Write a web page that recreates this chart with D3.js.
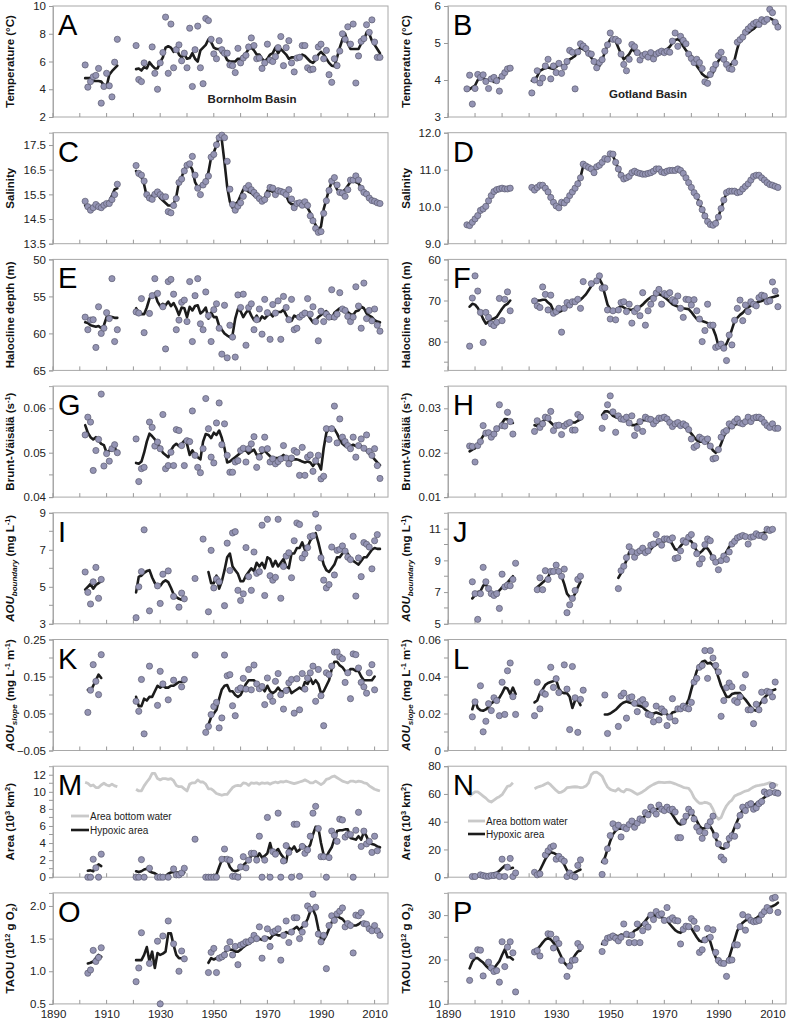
<!DOCTYPE html>
<html><head><meta charset="utf-8">
<script src="https://cdn.jsdelivr.net/npm/d3@7"></script>
<style>
body{margin:0;background:#fff}
text{font-family:"Liberation Sans",Arial,sans-serif}
</style>
</head><body>
<svg id="c" width="790" height="1025"></svg>
<script>
// ---------------- DATA (segments: [startYear, values...]) ----------------
const xTickYears = [1890,1900,1910,1920,1930,1940,1950,1960,1970,1980,1990,2000,2010];
const xLabelYears = [1890,1910,1930,1950,1970,1990,2010];

// A  Temperature Bornholm
const tempBBDots = [[1902,[5.75,4.15,4.55,4.9,5.0,5.5,3.0,4.2,5.15,4.25,3.45,5.95,7.6]],
 [1921,[7.15,4.7,4.55,5.9,null,null,7.05,5.15,4.0,5.9,
 6.65,9.2,5.15,8.7,5.55,6.85,7.2,6.05,6.6,5.55,
 8.4,4.2,6.85,8.55,5.55,4.4,9.1,8.95,7.6,6.55,
 6.2,7.5,6.85,6.6,6.6,5.75,5.7,5.2,6.95,5.9,
 6.25,6.45,7.05,7.7,7.15,6.2,6.25,5.5,5.9,7.25,
 6.1,6.0,6.35,7.0,7.8,5.7,7.0,7.5,5.9,5.25,
 6.25,6.3,7.15,7.15,5.55,5.4,5.45,6.25,7.05,7.25,
 6.2,6.8,5.05,4.5,6.2,5.7,6.75,8.0,7.6,8.5,
 7.25,8.7,4.45,6.4,7.45,7.65,8.65,8.1,9.0,7.4,
 6.3,6.3]]];
const tempBBLine = [[1902,[4.8,4.8,4.8,4.6,4.6,4.6,4.55,4.3,4.2,5.05,5.3,5.5,5.7]],
 [1921,[5.45,5.5,5.35,5.6,5.5,5.95,5.7,5.5,5.5,5.95,
 6.3,7.0,7.1,7.0,6.7,7.0,6.5,6.3,6.5,6.2,
 6.25,6.6,6.2,6.0,6.8,7.0,7.2,7.6,7.4,7.0,
 6.9,6.9,6.6,6.5,6.1,6.0,6.0,6.0,6.2,6.2,
 6.4,6.6,6.9,7.0,6.8,6.5,6.5,6.2,6.0,6.2,
 6.5,6.6,7.0,6.6,6.9,6.7,6.5,6.2,6.3,6.3,
 6.2,6.4,6.5,6.4,6.2,6.0,5.9,6.1,6.5,6.7,
 6.5,6.2,5.9,5.7,5.65,6.3,7.0,7.6,8.0,7.3,
 6.9,6.9,6.9,6.9,7.3,7.5,8.1,8.0,7.5,7.2,
 6.9,6.6]]];

// B  Temperature Gotland
const tempGBDots = [[1897,[3.76,4.13,3.35,3.77,4.15,4.07,4.14,3.96,3.77,4.03,4.07,3.98,3.7,4.1,4.2,4.3,4.32]],
 [1921,[3.65,4.0,4.25,3.92,4.05,4.38,4.56,4.03,4.38,4.2,
 4.45,4.18,4.35,4.5,4.8,4.75,3.76,4.76,4.98,4.92,
 4.85,4.72,4.7,4.5,4.33,4.47,4.55,4.78,4.95,5.27,
 5.1,5.1,5.05,4.7,4.42,4.25,4.56,4.96,4.9,4.74,
 4.54,4.66,4.7,4.62,4.74,4.57,4.7,4.74,4.78,4.74,
 4.78,4.75,5.05,5.27,4.91,5.18,5.07,4.98,4.7,4.58,
 4.47,4.56,4.47,4.31,3.95,3.91,4.15,4.29,4.42,4.66,
 4.75,4.56,4.42,4.31,4.29,4.47,5.02,5.09,5.16,5.29,
 5.38,5.45,5.52,5.56,5.5,5.63,5.58,5.64,5.91,5.82,
 5.56,5.43]]];
const tempGBLine = [[1898,[3.75,3.8,3.85,4.0,4.05,4.05,4.0,4.0,4.0,3.95,4.0,4.05,4.1,4.2,4.3,4.33]],
 [1921,[3.98,3.98,4.1,4.25,4.29,4.32,4.34,4.32,4.3,4.35,
 4.42,4.4,4.38,4.45,4.56,4.6,4.65,4.8,4.87,4.83,
 4.78,4.7,4.6,4.5,4.42,4.38,4.55,4.74,4.95,5.1,
 5.1,5.05,4.87,4.7,4.56,4.62,4.7,4.83,4.78,4.72,
 4.7,4.7,4.7,4.7,4.7,4.7,4.72,4.74,4.75,4.8,
 4.83,4.9,5.0,5.08,5.1,5.05,4.91,4.8,4.72,4.65,
 4.52,4.38,4.28,4.16,4.1,4.07,4.12,4.2,4.35,4.52,
 4.6,4.55,4.42,4.38,4.45,4.55,4.85,5.09,5.18,5.25,
 5.27,5.33,5.38,5.45,5.5,5.54,5.63,5.67,5.67,5.63,
 5.58,5.5]]];

// C  Salinity Bornholm
const salBBDots = [[1902,[15.22,15.0,14.86,14.96,15.09,15.0,14.96,15.06,15.13,15.13,15.29,15.49,15.91]],
 [1921,[16.67,16.35,16.28,16.04,15.49,15.35,15.3,15.5,15.6,15.49,
 15.4,15.4,14.8,14.75,15.05,15.33,15.98,16.12,16.45,16.68,
 16.74,17.04,16.28,15.75,15.49,15.88,16.02,16.24,17.01,17.12,
 17.51,17.8,17.9,17.8,16.84,15.71,15.09,14.86,15.02,15.16,
 15.42,15.75,15.86,15.69,15.58,15.45,15.33,15.22,15.29,15.49,
 15.78,15.75,15.49,15.65,15.62,15.58,15.49,15.69,15.31,14.96,
 15.13,15.16,15.06,15.2,15.05,14.63,14.43,14.12,13.96,13.99,
 14.73,15.24,15.66,16.04,16.18,15.88,15.58,15.55,15.42,15.69,
 16.08,16.08,16.25,16.08,15.75,15.58,15.51,15.35,15.25,15.22,
 15.16,15.13]]];
const salBBLine = [[1902,[15.05,14.95,14.97,15.0,15.02,15.0,15.05,15.1,15.13,15.2,15.45,15.7,15.75]],
 [1921,[16.45,16.3,16.2,15.9,15.4,15.4,15.45,15.45,15.5,15.35,
 15.25,15.15,15.05,15.05,15.1,15.4,16.0,16.2,16.5,16.7,
 16.7,16.5,16.0,15.8,15.85,15.95,16.0,16.4,17.0,17.2,
 17.5,17.85,17.7,16.8,15.8,15.2,14.95,15.1,15.2,15.45,
 15.7,15.7,15.6,15.55,15.45,15.4,15.3,15.3,15.35,15.65,
 15.65,15.6,15.6,15.62,15.6,15.5,15.45,15.2,15.1,15.1,
 15.15,15.1,15.1,15.05,14.95,14.75,14.5,14.25,14.05,14.2,
 14.9,15.3,15.7,16.0,15.95,15.7,15.6,15.6,15.7,15.85,
 16.0,16.05,16.0,15.95,15.75,15.55,15.45,15.35,15.25,15.2,
 15.15,15.1]]];

// D  Salinity Gotland
const salGBDots = [[1897,[9.51,9.49,9.58,9.67,9.76,9.9,9.94,10.01,10.16,10.3,10.41,10.46,10.48,10.5,10.48,10.48,10.5]],
 [1921,[10.52,10.45,10.52,10.58,10.58,10.5,10.4,10.25,10.12,10.02,
 9.97,10.12,10.1,10.18,10.3,10.4,10.5,10.62,10.78,11.15,
 11.1,11.06,11.02,10.92,11.08,11.12,11.2,11.3,11.28,11.43,
 11.42,11.2,11.02,10.85,10.75,10.78,10.82,10.92,10.96,10.92,
 10.9,10.88,10.88,10.9,10.92,10.96,11.02,11.02,10.94,10.92,
 10.96,10.98,10.98,10.98,11.02,10.98,10.9,10.78,10.65,10.52,
 10.38,10.28,10.1,9.92,9.75,9.6,9.52,9.5,9.55,9.72,
 9.95,10.18,10.38,10.42,10.42,10.42,10.38,10.4,10.48,10.55,
 10.62,10.72,10.82,10.85,10.85,10.78,10.72,10.65,10.6,10.58,
 10.55,10.52]]];
const salGBLine = [[1897,[9.5,9.52,9.58,9.66,9.76,9.88,9.95,10.03,10.15,10.28,10.4,10.45,10.48,10.49,10.48,10.48,10.5]],
 [1921,[10.52,10.5,10.52,10.56,10.56,10.5,10.4,10.26,10.13,10.04,
 10.0,10.08,10.12,10.2,10.3,10.4,10.5,10.62,10.8,11.1,
 11.1,11.05,11.02,11.0,11.05,11.12,11.2,11.28,11.32,11.4,
 11.38,11.2,11.02,10.86,10.77,10.78,10.84,10.9,10.93,10.92,
 10.9,10.89,10.89,10.9,10.92,10.95,11.0,11.0,10.95,10.93,
 10.95,10.97,10.98,10.99,11.0,10.97,10.9,10.78,10.65,10.52,
 10.38,10.27,10.1,9.92,9.76,9.62,9.53,9.51,9.57,9.73,
 9.95,10.18,10.36,10.41,10.42,10.41,10.39,10.41,10.47,10.55,
 10.62,10.71,10.8,10.84,10.84,10.79,10.72,10.65,10.6,10.57,
 10.54,10.52]]];

// E  Halocline depth Bornholm
const haloBBDots = [[1902,[57.8,59.5,58.2,58.15,61.9,56.4,60.0,59.3,57.2,58.0,52.6,61.1,59.5]],
 [1921,[57.1,57.25,55.3,59.9,null,57.3,54.9,52.6,54.6,null,
 56.4,62.1,53.0,52.7,54.7,59.5,58.2,55.8,55.5,58.4,
 53.0,61.1,54.9,52.6,58.7,59.5,54.4,57.6,61.1,56.8,
 56.0,59.3,62.8,56.2,63.3,58.9,60.5,63.2,54.8,56.5,
 54.7,61.6,56.5,56.0,59.5,58.15,56.7,60.1,55.4,57.2,
 60.8,56.1,57.25,55.6,60.8,55.0,56.5,58.15,55.4,59.5,
 59.3,57.8,57.5,57.25,55.3,57.4,56.4,58.4,61.0,57.0,
 58.4,57.4,57.8,54.1,57.8,57.4,54.5,56.7,56.9,57.7,
 58.4,57.8,53.7,56.3,59.3,53.2,58.0,56.9,58.3,56.7,
 58.9,59.7]]];
const haloBBLine = [[1902,[58.5,58.6,58.9,59.0,59.1,59.0,59.3,58.9,57.8,57.7,57.8,57.9,57.9]],
 [1921,[56.6,57.2,57.4,57.4,56.5,55.3,55.0,54.6,55.7,56.3,
 56.0,56.2,55.7,56.3,55.9,56.6,57.5,56.5,56.6,57.8,
 56.4,56.9,56.3,56.2,57.3,57.0,56.5,58.0,57.2,57.8,
 57.8,59.0,59.5,60.0,60.3,60.5,60.2,58.0,56.7,57.0,
 57.8,57.2,56.8,57.6,58.2,57.6,58.3,57.7,58.0,57.6,
 57.3,57.7,57.0,57.1,57.1,56.8,57.5,58.1,58.3,57.6,
 57.8,57.5,57.4,57.0,57.4,58.0,58.5,58.2,57.8,57.5,
 57.2,57.0,57.5,58.0,57.2,56.9,56.6,56.6,56.8,57.1,
 57.4,57.5,57.0,56.9,56.4,56.6,57.3,57.6,57.8,58.2,
 58.4,58.5]]];

// F  Halocline depth Gotland
const haloGBDots = [[1898,[81.1,69.4,64.0,67.7,72.9,80.2,72.9,74.1,75.7,76.1,75.3,69.5,74.9,69.7,67.9,72.5]],
 [1922,[70.1,71.3,71.7,66.7,68.5,72.3,68.7,73.1,72.7,
 71.9,77.7,71.9,70.5,71.1,70.3,70.3,69.7,71.9,65.4,
 null,null,65.9,null,65.2,64.0,67.0,66.9,72.3,74.5,
 72.5,74.7,72.3,70.5,70.3,72.7,70.9,75.5,72.7,71.9,
 73.7,68.1,76.0,72.5,70.9,69.5,68.2,67.3,70.9,68.3,
 68.6,68.1,69.8,70.3,68.9,71.9,74.1,69.7,69.8,71.1,
 69.8,72.5,74.5,80.0,77.3,70.9,76.0,76.0,81.4,81.1,
 80.6,81.6,84.6,78.4,80.8,74.8,71.9,69.9,74.9,71.1,
 72.7,70.3,70.9,71.3,69.3,68.7,68.9,70.3,70.1,65.5,
 67.7,71.5]]];
const haloGBLine = [[1898,[71.5,70.8,71.0,71.8,73.0,74.5,75.6,75.2,74.6,74.4,74.0,73.0,72.0,71.2,70.8,70.0]],
 [1922,[70.5,70.0,70.0,69.8,69.8,70.5,71.0,72.5,73.0,
 72.8,72.5,72.0,71.5,71.0,70.6,70.5,70.2,69.8,69.2,
 68.5,67.5,66.5,65.6,65.0,64.7,66.0,68.5,71.0,72.1,
 72.5,72.3,71.8,71.3,71.7,72.1,72.2,72.3,72.0,71.8,
 71.5,71.0,70.3,69.7,69.2,68.9,68.7,68.5,68.7,69.2,
 69.7,70.3,70.9,71.2,71.5,71.7,71.9,72.0,72.1,72.8,
 73.7,74.5,74.9,75.0,75.2,75.5,75.7,76.8,78.5,81.0,
 81.4,81.4,80.5,79.0,77.0,75.0,74.2,73.5,73.0,72.3,
 71.6,71.3,71.0,70.6,70.3,70.1,69.9,69.7,69.4,69.2,
 69.0,68.8]]];

// G  Brunt-Vaisala Bornholm
const bvBBDots = [[1902,[0.054,0.058,0.0569,0.046,0.0505,0.053,0.0632,0.047,0.0498,0.0481,0.0509,0.0518,0.050]],
 [1921,[0.0531,0.0435,0.0464,0.0467,null,0.0569,0.0557,0.0515,0.0524,0.0509,
 0.0586,0.0464,0.0471,0.0501,0.0471,0.0552,0.055,0.0516,0.0471,0.0527,
 0.0525,0.0594,0.0494,0.0467,0.0455,0.0509,0.0622,0.0554,0.049,0.0477,
 0.0567,0.0612,0.0518,0.0565,0.0494,0.0456,0.0456,0.0479,0.0482,0.0505,
 0.051,0.0479,0.0509,0.052,0.0536,0.0467,0.049,0.0507,0.0535,0.0509,
 0.0479,0.0486,0.0475,0.048,0.0486,0.0516,0.0488,0.0475,0.0488,0.0505,
 0.0501,0.0449,0.0512,0.0449,0.049,0.0495,0.0458,0.0482,0.0494,0.0441,
 0.0447,0.0554,0.053,0.0554,0.0605,0.0522,0.0576,0.0535,0.0525,0.0516,
 0.0509,0.0535,0.049,0.0516,0.0531,0.051,0.054,0.0503,0.0494,0.0509,
 0.0471,0.0442]]];
const bvBBLine = [[1902,[0.0562,0.0545,0.0535,0.053,0.0535,0.0527,0.052,0.0517,0.050,0.0505,0.0505,0.0512,0.050]],
 [1921,[0.0477,0.0475,0.048,0.050,0.0525,0.0543,0.0537,0.053,0.052,0.051,
 0.050,0.0495,0.049,0.0505,0.0515,0.052,0.0515,0.052,0.0527,0.052,
 0.0495,0.0505,0.0495,0.049,0.0485,0.0525,0.0542,0.054,0.0533,0.0545,
 0.054,0.055,0.0533,0.051,0.0478,0.048,0.0485,0.049,0.0495,0.050,
 0.0505,0.0505,0.0498,0.0503,0.0507,0.0495,0.0495,0.050,0.0505,0.0498,
 0.0492,0.0487,0.0488,0.0488,0.049,0.0495,0.049,0.0483,0.0482,0.0485,
 0.0485,0.0483,0.048,0.0478,0.048,0.0478,0.047,0.0478,0.0475,0.0462,
 0.051,0.0545,0.0555,0.0558,0.0553,0.0543,0.053,0.052,0.0515,0.0513,
 0.0515,0.0518,0.0515,0.0517,0.0515,0.0508,0.0505,0.0498,0.0492,0.0485,
 0.0478,0.0472]]];

// H  Brunt-Vaisala Gotland
const bvGBDots = [[1898,[0.0215,0.0214,0.0179,0.0216,0.0225,0.0261,0.0244,0.0245,0.0235,0.0242,0.0254,0.0308,0.0261,0.026,0.0291,0.027,0.0242]],
 [1922,[0.0248,0.0272,0.0257,0.0265,0.028,0.0278,0.0293,0.025,0.0261,0.0262,0.0241,0.026,0.0265,0.0268,0.0251,0.0251,0.0286,0.028]],
 [1947,[0.0255,0.0281,0.0308,0.0328,
 0.0292,0.0246,0.0283,0.0276,0.0275,0.028,0.0267,0.0283,0.0239,0.0255,
 0.027,0.0248,0.028,0.0276,0.0275,0.0265,0.0272,0.0278,0.0278,0.028,
 0.0276,0.0268,0.0259,0.0265,0.0268,0.0261,0.0265,0.0261,0.0252,0.0231,
 0.0212,0.0216,0.0235,0.0231,0.0225,0.0231,0.0215,0.0186,0.0188,0.0207,
 0.0235,0.0246,0.025,0.0265,0.026,0.027,0.0276,0.0267,0.0265,0.027,
 0.028,0.027,0.0278,0.028,0.028,0.0276,0.0268,0.0261,0.0257,0.0265,
 0.0255,0.0255]]];
const bvGBLine = [[1898,[0.0203,0.0207,0.021,0.022,0.0228,0.0238,0.0243,0.0243,0.0243,0.0245,0.025,0.0258,0.0267,0.0276,0.0275,0.0268,0.0267]],
 [1922,[0.0262,0.026,0.0268,0.027,0.0275,0.0274,0.0268,0.0262,0.0258,0.026,0.0262,0.0265,0.0263,0.0268,0.0268,0.0268,0.0272,0.0275]],
 [1947,[0.0285,0.0293,0.0293,0.029,
 0.0283,0.028,0.0278,0.0275,0.0275,0.0272,0.0268,0.0262,0.0262,0.0265,
 0.0268,0.0273,0.0273,0.0273,0.027,0.0268,0.0268,0.0272,0.0275,0.0275,
 0.0272,0.0268,0.0265,0.0262,0.0262,0.0262,0.026,0.0255,0.025,0.0243,
 0.0235,0.0228,0.0225,0.0225,0.0225,0.0222,0.0215,0.0205,0.020,0.0205,
 0.022,0.0237,0.0248,0.0255,0.026,0.0263,0.0265,0.0265,0.0267,0.0268,
 0.027,0.0272,0.0275,0.0275,0.0275,0.0272,0.0268,0.0265,0.0262,0.026,
 0.0258,0.0258]]];

// I  AOU boundary Bornholm
const aoubBBDots = [[1902,[5.8,4.7,4.07,5.27,6.05,4.38,5.4]],
 [1921,[3.33,5.0,5.82,8.08,null,3.7,null,null,5.05,4.1,5.68,null,5.86,null,4.48,null,3.9,4.66,4.35]],
 [1943,[5.45]],
 [1946,[7.58,null,3.65,6.97,4.94,5.42,5.27,null,3.98,7.36,5.88,7.91,7.98,4.81,4.26,
 4.62,7.12,5.55,4.81,6.88,5.73,5.82,8.33,4.53,8.65,
 5.6,5.36,5.51,8.65,4.38,6.1,6.66,6.84,5.49,7.49,
 8.45,8.37,6.56,6.78,7.12,7.71,7.76,8.93,8.19,6.56,
 5.36,4.94,5.12,7.15,5.64,6.97,7.02,7.21,6.93,6.6,
 6.47,7.73,4.5,6.56,5.55,7.39,7.3,7.15,5.97,7.49,
 7.82]]];
const aoubBBLine = [[1902,[4.85,5.0,5.15,4.9,5.1,5.2,5.3]],
 [1921,[4.7,5.55,5.6,5.75,5.85,5.9,5.5,5.2,5.0,5.05,5.25,5.35,5.25,4.95,4.6,4.45,4.35,4.3,4.35]],
 [1948,[5.8,5.2,5.2,
 5.6,4.9,5.3,5.9,6.6,6.8,6.1,5.9,5.7,5.3,
 5.3,5.6,5.8,6.0,5.85,6.3,6.1,6.3,6.0,6.6,
 6.5,6.1,6.4,6.1,6.3,6.5,6.1,6.0,6.8,6.8,
 7.1,7.1,7.4,7.0,7.15,7.5,7.7,7.9,7.4,6.8,
 6.2,5.9,5.8,6.0,6.2,6.6,6.6,6.8,6.9,6.8,
 6.5,6.4,6.3,6.2,6.4,6.6,6.6,6.8,7.0,7.1,
 7.05,7.05]]];

// J  AOU boundary Gotland
const aoubGBDots = [[1899,[7.65,6.9,5.28,6.9,8.56,7.65,7.22,6.9,6.79,6.9,5.97,8.13,7.33,7.44,7.4,7.8,8.82]],
 [1923,[7.15,7.9,7.15,8.35,7.8,8.3,8.3,8.7,8.3,8.0,8.45,5.7,6.2,6.6,7.1,7.8,8.0]],
 [1953,[7.22,8.35,8.63,9.17,9.86,9.55,9.2,9.49,9.6,9.77,
 9.49,9.6,9.96,10.03,10.63,10.2,9.96,10.35,10.35,10.29,
 10.42,9.12,9.17,9.6,10.24,10.14,10.46,10.63,9.92,9.42,
 8.78,9.1,9.99,10.35,10.24,9.17,8.89,8.41,8.99,9.27,
 9.06,9.53,10.03,10.2,10.42,10.5,10.57,10.5,10.03,10.46,
 10.5,10.68,10.57,10.57,10.46,10.96,10.89,10.96]]];
const aoubGBLine = [[1899,[6.6,6.8,7.0,7.05,7.4,7.5,7.15,6.95,6.85,6.95,7.1,7.3,7.4,7.6,7.8,8.0]],
 [1923,[7.3,7.45,7.6,7.75,7.95,8.3,8.35,8.35,8.3,8.0,7.5,6.9,6.7,6.6,6.9,7.3,7.65]],
 [1953,[7.9,8.2,8.6,9.0,9.5,9.6,9.5,9.45,9.5,9.55,
 9.6,9.6,9.7,9.9,10.0,10.1,10.2,10.2,10.25,10.3,
 10.0,9.7,9.65,9.9,10.1,10.25,10.3,10.2,9.9,9.6,
 9.45,9.6,9.8,9.75,9.5,9.1,8.9,8.85,9.05,9.25,
 9.55,9.85,10.1,10.3,10.45,10.55,10.6,10.55,10.5,10.5,
 10.55,10.6,10.65,10.7,10.75,10.8,10.85,10.85]]];

// K  AOU slope Bornholm
const aousBBDots = [[1903,[0.053,0.113,0.182,0.137,0.101,0.209]],
 [1921,[0.083,0.056,0.142,-0.005,null,0.178,null,null,0.072,0.164,0.13,null,0.087,null,0.14,null,null,0.122,0.142]],
 [1943,[0.208]],
 [1947,[-0.001,0.015,0.047,0.069,
 0.08,0.011,0.038,0.208,0.152,0.155,0.071,0.044,0.114,0.119,
 0.145,0.116,0.169,0.114,0.181,0.13,0.117,0.123,0.074,0.146,
 0.096,0.083,0.137,0.158,0.101,0.062,0.112,0.133,0.142,0.051,
 0.144,0.06,0.158,0.116,0.146,0.16,0.178,0.083,0.169,0.098,
 0.017,0.16,0.155,0.178,0.216,0.216,0.203,0.198,0.134,0.16,
 0.09,0.211,0.209,0.173,0.134,0.122,0.105,0.16,0.182,0.114]]];
const aousBBLine = [[1903,[0.114,0.11,0.125,0.14,0.155,0.146]],
 [1921,[0.095,0.07,0.07,0.09,0.085,0.095,0.095,0.11,0.125,0.12,0.125,0.12,0.12,0.125,0.125,0.13,0.135,0.135,0.135]],
 [1948,[0.02,0.04,0.05,
 0.06,0.09,0.115,0.125,0.127,0.11,0.11,0.1,0.095,0.1,
 0.115,0.13,0.14,0.14,0.14,0.13,0.125,0.12,0.11,0.125,
 0.11,0.105,0.11,0.12,0.11,0.11,0.115,0.12,0.105,0.11,
 0.115,0.12,0.115,0.135,0.13,0.145,0.13,0.14,0.13,0.105,
 0.11,0.125,0.14,0.17,0.19,0.19,0.18,0.175,0.165,0.16,
 0.17,0.17,0.165,0.165,0.15,0.14,0.14,0.14,0.14,0.15]]];

// L  AOU slope Gotland
const aousGBDots = [[1899,[0.0182,0.0263,null,0.035,0.0101,0.0158,0.0253,0.0216,0.0285,0.027,0.0188,0.0369,0.0195,0.0431,0.0473,0.0291,0.0195]],
 [1922,[0.0188,0.0369,0.0225,0.0313,0.0304,null,0.045,0.0341,0.0388,0.0313,null,0.0463,0.0332,0.0113,0.0454,0.0285,0.0098,0.0276,0.0326]],
 [1948,[0.030,0.0092,null,
 null,null,0.013,0.0295,0.031,0.0175,0.0285,0.029,0.0255,0.021,
 0.0265,0.0275,0.025,0.0195,0.019,0.0155,0.024,0.0165,0.0225,0.021,
 0.0135,0.018,0.028,0.016,0.0225,0.0225,0.024,0.023,0.0225,0.026,
 0.037,0.039,0.045,0.046,0.054,0.039,0.054,0.050,0.046,0.0425,
 0.0185,0.027,0.034,0.0365,0.0345,0.027,0.026,0.029,0.034,0.041,
 0.022,0.022,0.0145,0.025,0.022,0.0315,0.027,0.032,0.0315,0.029,
 0.037]]];
const aousGBLine = [[1899,[0.0223,0.027,0.023,0.0218,0.0215,0.0222,0.0235,0.0255,0.0265,0.027,0.0285,0.031,0.034,0.0335,0.0305,0.034,0.0305]],
 [1922,[0.026,0.027,0.031,0.033,0.0355,0.0365,0.037,0.0375,0.038,0.0335,0.0315,0.031,0.031,0.029,0.023,0.027,0.0275,0.0245]],
 [1948,[0.0195,0.0195,0.02,
 0.021,0.022,0.0235,0.025,0.026,0.0265,0.026,0.0255,0.025,0.0245,
 0.024,0.0235,0.022,0.021,0.02,0.02,0.0205,0.02,0.0195,0.0205,
 0.0195,0.0185,0.0205,0.021,0.022,0.023,0.0235,0.0245,0.0275,0.033,
 0.038,0.043,0.046,0.048,0.0485,0.047,0.0475,0.046,0.044,0.0395,
 0.035,0.032,0.029,0.029,0.0305,0.031,0.031,0.031,0.029,0.0275,
 0.0255,0.0235,0.022,0.0215,0.0245,0.0265,0.0285,0.030,0.031,0.0325,
 0.033]]];

// M  Area Bornholm
const areaBBDots = [[1903,[0,0,2.1,1.1,0,2.7]],
 [1921,[0,0,2.06,0,null,1.05,null,null,0,0,0,null,0,null,0.97,0.27,0.27,0.5,1.05]],
 [1943,[4.45]],
 [1947,[0,0,0,0,
 0,null,2.1,3.3,2.1,2.0,0.1,0.1,0,1.2,
 2.4,1.1,2.0,2.8,2.8,2.0,4.8,0,2.0,7.0,
 0,3.0,2.7,7.5,0,1.9,3.7,2.9,0,6.2,
 6.2,0.1,3.6,2.8,3.2,4.8,7.5,8.3,5.7,2.4,
 2.4,0,2.3,5.4,4.9,4.2,6.8,6.7,4.7,5.0,
 5.0,0,5.5,7.6,3.6,5.4,3.9,4.2,2.9,4.8,
 3.1]]];
const areaBBLine = [[1903,[0.75,0.8,0.7,1.2,1.5,1.3]],
 [1921,[0.7,0.6,0.7,0.9,1.0,0.7,0.55,0.45,0.25,0.1,0.1,0.15,0.4,0.55,0.6,0.55,0.55,0.6,0.55]],
 [1948,[0.2,0.2,0.2,
 0.3,1.2,2.0,2.3,2.0,1.2,0.8,0.7,0.8,1.1,
 1.4,1.7,2.0,2.5,2.6,2.2,2.8,2.3,2.5,2.8,
 4.0,2.8,3.0,3.3,2.7,2.3,1.8,3.5,3.2,3.6,
 3.0,3.2,3.8,3.6,3.3,3.8,5.0,5.9,5.8,4.0,
 2.6,2.4,3.0,3.5,4.5,5.4,5.5,5.5,5.6,5.6,
 4.6,4.5,4.4,4.8,4.4,5.3,4.8,4.0,3.9,3.8,
 3.6,3.5]]];
const bottomBB = [[1902,[11.1,11.0,10.7,10.8,10.5,10.5,10.8,11.0,10.8,10.7,10.9,10.7,10.6]],
 [1921,[10.3,10.1,10.1,10.7,11.15,11.55,12.15,12.15,11.55,11.4,
 11.55,11.55,11.45,11.55,11.3,10.75,10.6,10.6,10.35,10.1,
 10.9,11.05,11.05,11.4,11.15,11.15,10.9,10.35,10.35,10.1,
 9.8,9.7,9.6,9.7,9.7,10.1,10.5,10.7,10.75,10.7,
 11.05,11.0,10.75,11.05,11.0,11.05,10.9,11.05,11.0,11.05,
 10.9,11.05,11.15,11.05,11.2,11.15,11.25,11.15,11.05,10.95,
 11.05,11.15,11.25,11.4,11.25,11.05,11.05,11.25,11.05,10.85,
 11.05,11.45,11.55,11.75,11.85,11.65,11.45,11.25,11.15,11.05,
 11.25,11.25,11.15,11.25,11.2,11.05,11.0,10.7,10.5,10.3,
 10.2,10.1]]];

// N  Area Gotland
const areaGBDots = [[1899,[0.5,0.5,null,1.7,1.2,0.7,0.7,1.2,1.2,1.7,0.5,13.0,0.5,7.2,13.5,0.5,3.1]],
 [1922,[3.5,1.7,2.4,null,16.0,19.0,21.5,22.5,13.0,15.0,13.0,11.5,0.5,3.0,1.0,0.2,8.5,12.5]],
 [1947,[2.0,11.5,20.5,30.0,
 38.5,35.5,37.5,29.0,36.0,35.0,38.0,40.5,36.0,39.0,
 42.0,41.0,46.5,45.0,50.5,48.0,45.5,52.0,49.0,48.0,
 50.5,48.5,49.0,47.0,28.5,28.5,40.0,44.0,49.0,47.0,
 42.0,36.0,33.0,28.0,32.0,37.0,40.0,44.0,30.0,24.0,
 14.5,12.5,23.0,28.0,30.0,29.5,37.0,44.5,50.5,48.0,
 52.0,53.0,49.0,50.0,53.0,54.5,61.5,60.0,61.0,66.0,
 61.0,60.5]]];
const areaGBLine = [[1899,[0.5,0.5,0.8,1.0,1.0,1.0,1.2,1.8,2.8,3.2,4.5,6.5,8.3,7.0,6.2,6.8]],
 [1922,[2.5,2.5,5.0,9.0,13.0,16.0,18.0,17.5,16.5,15.0,12.5,9.0,5.0,3.0,2.5,3.5,4.5,5.5]],
 [1947,[11.0,14.0,20.0,26.0,
 31.0,33.5,35.0,35.0,35.5,36.5,37.0,38.0,38.5,39.0,
 40.5,42.5,44.5,46.0,47.5,48.5,49.0,49.5,49.0,48.5,
 48.0,47.5,45.0,42.0,39.0,38.0,38.5,42.0,45.0,46.0,
 44.0,40.5,37.0,35.0,35.5,37.0,36.5,33.0,28.0,23.5,
 21.0,20.5,22.0,27.0,31.0,36.0,40.5,45.0,48.5,50.5,
 51.0,51.5,52.0,53.0,54.5,56.0,57.5,59.0,60.0,61.0,
 61.5,62.0]]];
const bottomGB = [[1898,[58.5,60.0,61.5,61.5,60.0,58.5,57.0,55.0,54.2,55.5,57.0,58.0,59.5,62.5,65.5,66.0,68.0]],
 [1922,[63.8,64.8,65.5,66.1,67.2,68.1,66.5,64.5,62.5,
 61.0,61.4,62.5,64.5,64.8,65.0,65.2,65.0,64.5,64.8,
 65.7,68.0,74.0,75.5,75.7,74.5,72.8,68.5,65.0,63.3,
 62.5,62.1,63.8,62.1,61.4,63.3,63.0,62.1,60.9,59.7,
 60.5,61.6,63.0,64.5,65.8,66.9,67.8,68.5,68.3,68.1,
 68.3,68.5,68.0,67.3,66.5,65.7,64.8,64.3,64.0,61.4,
 57.3,55.0,53.3,53.3,54.0,53.5,52.5,49.0,44.2,41.8,
 43.0,47.8,51.5,54.0,55.6,58.5,59.5,60.2,61.2,62.1,
 62.5,63.8,65.0,65.8,66.1,66.5,66.9,67.5,68.1,67.5,
 66.9,66.1]]];

// O  TAOU Bornholm
const taouBBDots = [[1903,[0.97,1.02,1.32,1.15,1.21,1.36]],
 [1921,[0.84,1.05,1.59,null,null,1.12,null,null,1.46,0.5,1.54,null,1.77,null,1.42,null,1.0,1.31,1.19]],
 [1948,[0.98,1.29,1.35,
 0.98,1.2,1.22,1.25,1.35,1.45,1.25,1.38,1.1,1.4,
 1.42,1.45,1.45,1.48,1.55,1.5,1.68,1.2,1.5,1.65,
 1.38,1.6,1.62,1.65,1.17,1.55,1.77,1.44,1.6,1.82,
 1.82,1.5,1.6,1.72,2.0,1.95,2.18,1.98,1.57,1.45,
 1.55,1.04,1.7,1.85,1.78,1.88,1.92,1.97,1.68,1.73,
 1.7,1.28,1.86,1.85,1.9,1.73,1.72,1.65,1.62,1.7,
 1.62,1.55]]];
const taouBBLine = [[1903,[1.12,1.13,1.15,1.2,1.25,1.22]],
 [1921,[1.17,1.17,1.17,1.25,1.37,1.15,1.3,1.05,1.28,1.25,1.27,1.3,1.58,1.58,1.4,1.25,1.2,1.2,1.2]],
 [1948,[1.13,1.2,1.18,
 1.2,1.2,1.22,1.28,1.33,1.33,1.33,1.3,1.3,1.33,
 1.37,1.4,1.42,1.45,1.48,1.48,1.5,1.48,1.5,1.52,
 1.5,1.55,1.57,1.55,1.55,1.57,1.6,1.58,1.62,1.65,
 1.68,1.63,1.68,1.72,1.8,1.92,1.95,1.85,1.65,1.5,
 1.48,1.55,1.65,1.75,1.82,1.85,1.82,1.8,1.75,1.7,
 1.68,1.7,1.7,1.72,1.75,1.75,1.72,1.68,1.65,1.63,
 1.62,1.6]]];

// P  TAOU Gotland
const taouGBDots = [[1898,[15.3,20.8,null,22.2,22.1,16.3,null,19.4,18.1,17.3,17.5,14.9,24.0,18.4,22.8,24.0,21.5,12.7]],
 [1922,[21.7,22.0,20.8,null,null,25.8,25.7,22.6,24.6,23.6,19.8,null,16.2,18.5,19.8,19.9,23.6,22.8]],
 [1947,[21.8,23.8,24.8,25.0,
 25.3,24.8,24.2,25.0,28.0,25.7,23.8,25.5,23.8,28.0,
 23.8,26.5,28.0,27.3,30.0,29.0,30.8,30.0,30.3,28.8,
 31.7,29.0,29.4,28.8,28.7,23.5,26.8,27.5,27.4,29.2,
 28.6,27.0,21.6,22.2,24.4,27.0,25.0,26.7,21.6,19.8,
 19.2,19.1,16.2,19.8,19.9,23.3,23.3,27.4,30.1,26.6,
 29.6,28.8,28.5,28.6,28.8,30.1,30.8,31.7,31.0,33.8,
 34.0,30.6]]];
const taouGBLine = [[1898,[18.0,19.5,20.3,20.3,19.8,19.3,18.6,18.0,17.6,18.0,18.8,19.6,21.0,22.3,20.5,20.5,20.0]],
 [1922,[21.8,22.3,23.0,23.8,24.5,24.8,24.5,23.8,23.0,21.8,20.5,19.3,18.6,19.0,20.0,21.0,21.8,22.0]],
 [1947,[23.5,24.2,24.8,25.2,
 25.5,25.4,25.2,25.6,25.5,25.3,25.2,25.8,26.5,26.8,
 27.5,28.0,28.7,29.5,30.0,30.0,29.8,29.6,29.5,29.2,
 28.8,28.0,27.3,26.6,26.2,26.0,26.5,27.3,27.6,27.0,
 26.0,25.0,24.2,24.0,24.5,25.2,24.0,22.0,20.5,19.2,
 18.9,19.0,19.5,20.5,22.5,24.5,26.5,27.5,28.3,28.8,
 29.0,29.0,29.0,29.3,29.8,30.5,31.0,31.5,31.8,32.0,
 32.3,32.8]]];

// ---------------- LABELS ----------------
const lblTemp = [["Temperature (°C)"]];
const lblSal = [["Salinity"]];
const lblHalo = [["Halocline depth (m)"]];
const lblBV = [["Brunt-Väisälä  (s"],["-1","sup"],[")"]];
const lblAOUb = [["AOU","i"],["boundary","isub"],[" (mg L"],["-1","sup"],[")"]];
const lblAOUs = [["AOU","i"],["slope","isub"],[" (mg L"],["-1","sup"],[" m"],["-1","sup"],[")"]];
const lblArea = [["Area (10"],["3","sup"],[" km"],["2","sup"],[")"]];
const lblTAOU = [["TAOU (10"],["12","sup"],[" g O"],["2","sub"],[")"]];

// ---------------- PANELS ----------------
const f0 = d3.format("d"), f1 = d3.format(".1f"), f2 = d3.format(".2f");
const panels = [
 {L:"A",c:0,r:0,dom:[2,10],tk:[2,4,6,8,10],mn:[],fmt:f0,lab:lblTemp,dots:tempBBDots,line:tempBBLine},
 {L:"B",c:1,r:0,dom:[3,6],tk:[3,4,5,6],mn:[],fmt:f0,lab:lblTemp,dots:tempGBDots,line:tempGBLine},
 {L:"C",c:0,r:1,dom:[13.5,18],tk:[13.5,14.5,15.5,16.5,17.5],mn:[],fmt:f1,lab:lblSal,dots:salBBDots,line:salBBLine},
 {L:"D",c:1,r:1,dom:[9,12],tk:[9,10,11,12],mn:[],fmt:f1,lab:lblSal,dots:salGBDots,line:salGBLine},
 {L:"E",c:0,r:2,dom:[65,50],tk:[50,55,60,65],mn:[],fmt:f0,lab:lblHalo,dots:haloBBDots,line:haloBBLine},
 {L:"F",c:1,r:2,dom:[87,60],tk:[60,70,80],mn:[65,75,85],fmt:f0,lab:lblHalo,dots:haloGBDots,line:haloGBLine},
 {L:"G",c:0,r:3,dom:[0.04,0.065],tk:[0.04,0.05,0.06],mn:[0.045,0.055],fmt:f2,lab:lblBV,dots:bvBBDots,line:bvBBLine},
 {L:"H",c:1,r:3,dom:[0.01,0.035],tk:[0.01,0.02,0.03],mn:[0.015,0.025],fmt:f2,lab:lblBV,dots:bvGBDots,line:bvGBLine},
 {L:"I",c:0,r:4,dom:[3,9],tk:[3,5,7,9],mn:[4,6,8],fmt:f0,lab:lblAOUb,dots:aoubBBDots,line:aoubBBLine},
 {L:"J",c:1,r:4,dom:[5,12],tk:[5,7,9,11],mn:[6,8,10],fmt:f0,lab:lblAOUb,dots:aoubGBDots,line:aoubGBLine},
 {L:"K",c:0,r:5,dom:[-0.05,0.25],tk:[-0.05,0.05,0.15,0.25],mn:[0,0.1,0.2],fmt:f2,lab:lblAOUs,dots:aousBBDots,line:aousBBLine},
 {L:"L",c:1,r:5,dom:[0,0.06],tk:[0,0.02,0.04,0.06],mn:[0.01,0.03,0.05],fmt:d=>d===0?"0":f2(d),lab:lblAOUs,dots:aousGBDots,line:aousGBLine},
 {L:"M",c:0,r:6,dom:[0,13],tk:[0,2,4,6,8,10,12],mn:[1,3,5,7,9,11],fmt:f0,lab:lblArea,dots:areaBBDots,line:areaBBLine,grey:bottomBB,leg:[71,89,816,830]},
 {L:"N",c:1,r:6,dom:[0,80],tk:[0,20,40,60,80],mn:[],fmt:f0,lab:lblArea,dots:areaGBDots,line:areaGBLine,grey:bottomGB,leg:[468,485,821,834]},
 {L:"O",c:0,r:7,dom:[0.5,2.2],tk:[0.5,1.0,1.5,2.0],mn:[],fmt:f1,lab:lblTAOU,dots:taouBBDots,line:taouBBLine},
 {L:"P",c:1,r:7,dom:[10,35],tk:[10,20,30],mn:[15,25],fmt:f0,lab:lblTAOU,dots:taouGBDots,line:taouGBLine}
];

// ---------------- DRAW ----------------
const svg = d3.select("#c");
const colX = [[53,388],[448,786]];
const labX = [14,410];
const rowTop = i => 6 + i*126.7, rowH = 111;
const toPts = segs => { const o=[]; segs.forEach(([s,v])=>v.forEach((d,i)=>{ if(d!=null) o.push([s+i,d]); })); return o; };
const toSegs = segs => segs.map(([s,v])=>v.map((d,i)=>[s+i,d]));

panels.forEach(p=>{
  const [x0,x1] = colX[p.c];
  const top = rowTop(p.r), bot = top + rowH;
  const x = d3.scaleLinear().domain([1890,2015]).range([x0,x1]);
  const y = d3.scaleLinear().domain(p.dom).range([bot,top]);
  const g = svg.append("g");

  g.append("rect").attr("x",x0).attr("y",top).attr("width",x1-x0).attr("height",rowH)
    .attr("fill","none").attr("stroke","#a8a8a8").attr("stroke-width",1);

  const ya = g.append("g").attr("transform",`translate(${x0},0)`)
    .call(d3.axisLeft(y).tickValues(p.tk).tickFormat(p.fmt).tickSize(4).tickPadding(3));
  ya.select(".domain").attr("stroke","#a8a8a8");
  ya.selectAll(".tick line").attr("stroke","#999");
  ya.selectAll(".tick text").attr("font-size",11.5).attr("fill","#222")
    .attr("font-family","Liberation Sans, Arial, sans-serif");
  p.mn.forEach(v=>g.append("line").attr("x1",x0-4).attr("x2",x0).attr("y1",y(v)).attr("y2",y(v)).attr("stroke","#999"));

  xTickYears.forEach(t=>g.append("line").attr("x1",x(t)).attr("x2",x(t)).attr("y1",bot).attr("y2",bot-4).attr("stroke","#999"));
  if(p.r===7){
    const xa = g.append("g").attr("transform",`translate(0,${bot})`)
      .call(d3.axisBottom(x).tickValues(xLabelYears).tickFormat(f0).tickSize(0).tickPadding(6));
    xa.select(".domain").remove();
    xa.selectAll(".tick text").attr("font-size",11.5).attr("fill","#222")
      .attr("font-family","Liberation Sans, Arial, sans-serif");
  }

  const line = d3.line().defined(d=>d[1]!=null).x(d=>x(d[0])).y(d=>y(d[1]));
  if(p.grey){
    toSegs(p.grey).forEach(s=>g.append("path").attr("d",line(s)).attr("fill","none")
      .attr("stroke","#c9c9c9").attr("stroke-width",2.8).attr("stroke-linejoin","round"));
  }
  toSegs(p.line).forEach(s=>g.append("path").attr("d",line(s)).attr("fill","none")
    .attr("stroke","#1c1c1c").attr("stroke-width",2.6).attr("stroke-linejoin","round").attr("stroke-linecap","round"));
  g.selectAll("circle.pt").data(toPts(p.dots)).join("circle").attr("class","pt")
    .attr("cx",d=>x(d[0])).attr("cy",d=>y(d[1])).attr("r",3.1)
    .attr("fill","#9494b4").attr("stroke","#5c5c70").attr("stroke-width",0.7);

  g.append("text").attr("x",x0+5).attr("y",top+29).attr("font-size",29).attr("fill","#000").text(p.L);

  const t = g.append("text").attr("transform",`translate(${labX[p.c]},${top+rowH/2}) rotate(-90)`)
    .attr("text-anchor","middle").attr("font-size",11.5).attr("font-weight","bold").attr("fill","#111");
  let shift = 0;
  p.lab.forEach(([s,st])=>{
    const ts = t.append("tspan").text(s);
    let target = 0;
    if(st==="sup"){ target=-4.5; ts.attr("font-size",7.5); }
    else if(st==="sub"){ target=3; ts.attr("font-size",7.5); }
    else if(st==="isub"){ target=3; ts.attr("font-size",8).attr("font-style","italic"); }
    if(st==="i") ts.attr("font-style","italic");
    if(target!==shift){ ts.attr("dy",target-shift); shift=target; }
  });

  if(p.leg){
    const [lx0,lx1,ly1,ly2] = p.leg;
    g.append("line").attr("x1",lx0).attr("x2",lx1).attr("y1",ly1).attr("y2",ly1).attr("stroke","#c9c9c9").attr("stroke-width",2.8);
    g.append("text").attr("x",lx1+1).attr("y",ly1+3.5).attr("font-size",10).attr("fill","#222").text("Area bottom water");
    g.append("line").attr("x1",lx0).attr("x2",lx1).attr("y1",ly2).attr("y2",ly2).attr("stroke","#1c1c1c").attr("stroke-width",2.6);
    g.append("text").attr("x",lx1+1).attr("y",ly2+3.5).attr("font-size",10).attr("fill","#222").text("Hypoxic area");
  }
});

svg.append("text").attr("x",252).attr("y",103).attr("text-anchor","middle").attr("font-size",11.5).attr("font-weight","bold").attr("fill","#222").text("Bornholm Basin");
svg.append("text").attr("x",648).attr("y",98).attr("text-anchor","middle").attr("font-size",11.5).attr("font-weight","bold").attr("fill","#222").text("Gotland Basin");
</script>
</body></html>
